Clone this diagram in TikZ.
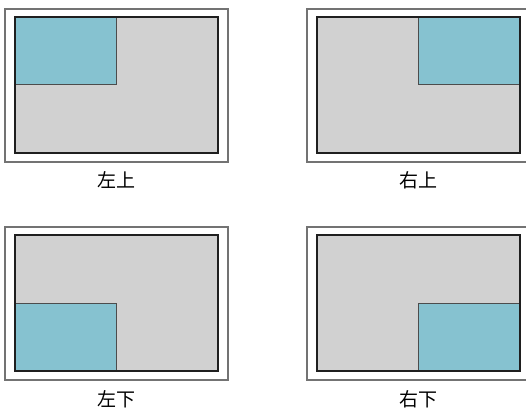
\documentclass[tikz,border=0pt]{standalone}
\usepackage{fontspec}
\newfontfamily\cjk{Noto Sans CJK SC}

\def\outerframe{(5,9) rectangle (228,162)}
\def\innerframe{(15,17) rectangle (218,153)}
\def\cornerTL{(15,17) rectangle (116.5,84.5)}
\def\cornerTR{(116.5,17) rectangle (218,84.5)}
\def\cornerBL{(15,85.5) rectangle (116.5,153)}
\def\cornerBR{(116.5,85.5) rectangle (218,153)}
\colorlet{frame edge}{black!55}
\colorlet{screen edge}{black!88}
\colorlet{screen area}{black!18}
\definecolor{corner area}{HTML}{86C2D0}
\tikzset{outline/.style={draw=frame edge, line width=1.6pt},
    screen/.style={fill=screen area, draw=screen edge, line width=2pt},
    corner/.style={fill=corner area, draw=black!70, line width=1pt},
    caption/.style={font=\cjk\fontsize{19}{20}\selectfont, inner sep=0pt}}

\begin{document}
\begin{tikzpicture}[x=1pt, y=-1pt]
        \clip (0,0) rectangle (526,411);
        % Top left
        \begin{scope}
            \draw[outline] \outerframe;
            \fill[screen area] \innerframe;
            \draw[corner] \cornerTL;
            \draw[screen, fill=none] \innerframe;
            \node[caption] (tl) at (116.5,180) {左上};
        \end{scope}

        % Top right
        \begin{scope}[shift={(302,0)}]
            \draw[outline] \outerframe;
            \fill[screen area] \innerframe;
            \draw[corner] \cornerTR;
            \draw[screen, fill=none] \innerframe;
            \node[caption] (tr) at (116.5,180) {右上};
        \end{scope}

        % Bottom left
        \begin{scope}[shift={(0,218)}]
            \draw[outline] \outerframe;
            \fill[screen area] \innerframe;
            \draw[corner] \cornerBL;
            \draw[screen, fill=none] \innerframe;
            \node[caption] (bl) at (116.5,181) {左下};
        \end{scope}

        % Bottom right
        \begin{scope}[shift={(302,218)}]
            \draw[outline] \outerframe;
            \fill[screen area] \innerframe;
            \draw[corner] \cornerBR;
            \draw[screen, fill=none] \innerframe;
            \node[caption] (br) at (116.5,181) {右下};
        \end{scope}
    \end{tikzpicture}
\end{document}
